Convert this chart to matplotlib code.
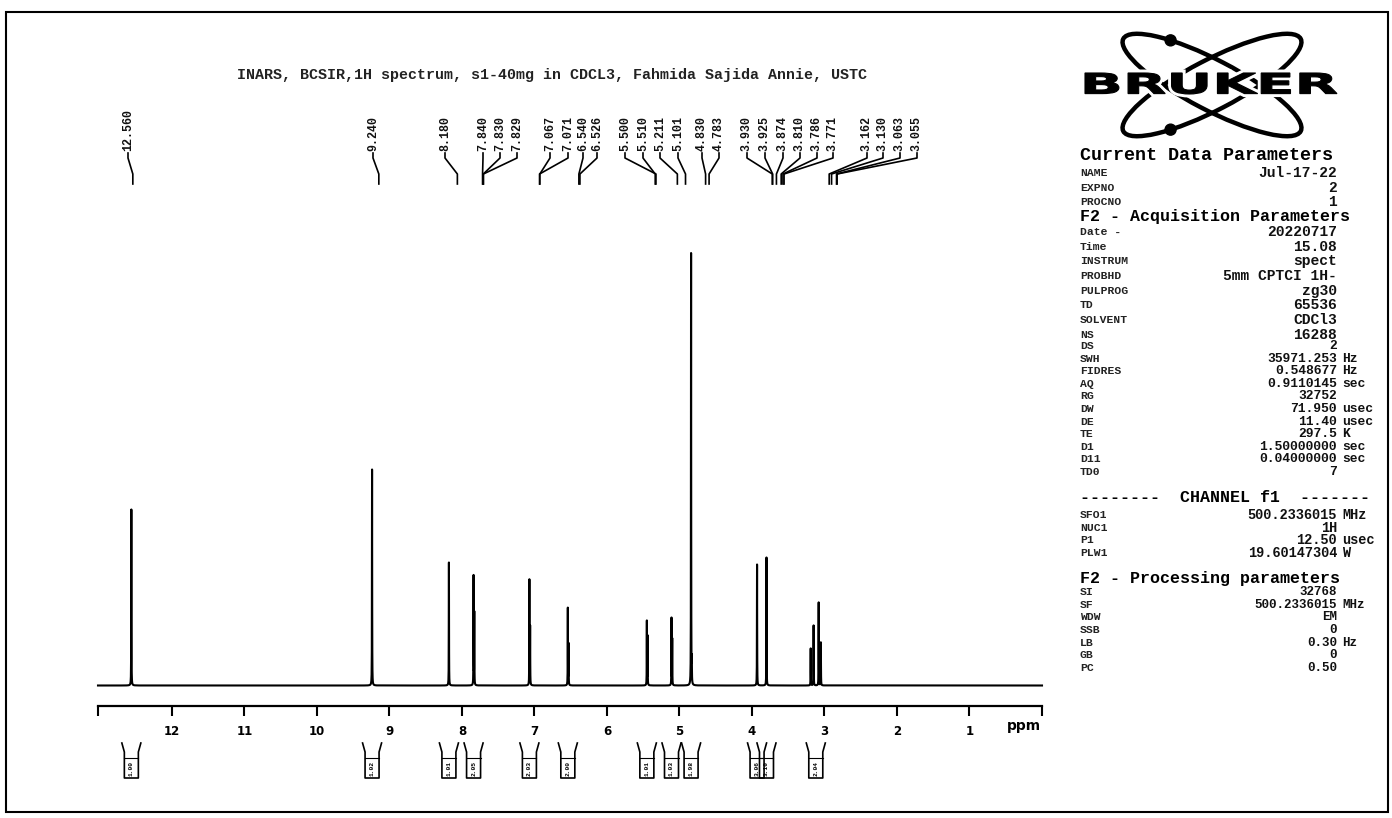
import numpy as np
import matplotlib.pyplot as plt
from matplotlib.patches import Ellipse, Rectangle, PathPatch, Circle
from matplotlib.textpath import TextPath
from matplotlib.font_manager import FontProperties
from matplotlib.transforms import Affine2D
import matplotlib.patheffects as pe

W, H = 1392, 818
MONO = ['Liberation Mono', 'DejaVu Sans Mono']

title = "INARS, BCSIR,1H spectrum, s1-40mg in CDCL3, Fahmida Sajida Annie, USTC"

# lines of the spectrum (ppm, height)
line_ppm = [12.56, 9.24, 8.18, 7.84, 7.83, 7.07, 7.06, 6.54, 6.53, 5.45, 5.44,
            5.11, 5.10, 4.84, 4.83, 3.93, 3.80, 3.19, 3.15, 3.08, 3.05]
line_height = [176, 216, 123, 109, 72, 105, 58, 77, 41, 64, 49,
               67, 46, 432, 22, 121, 128, 37, 60, 83, 43]

# peak picking labels
peak_labels = ["12.560", "9.240", "8.180", "7.840", "7.830", "7.829", "7.067", "7.071",
               "6.540", "6.526", "5.500", "5.510", "5.211", "5.101", "4.830", "4.783",
               "3.930", "3.925", "3.874", "3.810", "3.786", "3.771",
               "3.162", "3.130", "3.063", "3.055"]
# where the label text sits (layout, pixels)
label_x_px = [128, 373, 445, 483, 500, 517, 550, 568, 583, 597, 625, 643, 660, 678,
              702, 719, 747, 765, 783, 800, 817, 833, 867, 883, 900, 917]

# integrals
integral_ppm = [12.56, 9.24, 8.18, 7.84, 7.07, 6.54, 5.45, 5.11, 4.84, 3.93, 3.80, 3.12]
integral_values = ["1.00", "1.02", "1.01", "2.05", "2.03", "2.00", "1.01", "1.03",
                   "1.98", "3.06", "3.10", "2.04"]

ppm_ticks = [12, 11, 10, 9, 8, 7, 6, 5, 4, 3, 2, 1]

# parameter panel
block_current = [("NAME", "Jul-17-22", ""), ("EXPNO", "2", ""), ("PROCNO", "1", "")]
block_acq1 = [("Date -", "20220717", ""), ("Time", "15.08", ""), ("INSTRUM", "spect", ""),
              ("PROBHD", "5mm CPTCI 1H-", ""), ("PULPROG", "zg30", ""), ("TD", "65536", ""),
              ("SOLVENT", "CDCl3", ""), ("NS", "16288", "")]
block_acq2 = [("DS", "2", ""), ("SWH", "35971.253", "Hz"), ("FIDRES", "0.548677", "Hz"),
              ("AQ", "0.9110145", "sec"), ("RG", "32752", ""), ("DW", "71.950", "usec"),
              ("DE", "11.40", "usec"), ("TE", "297.5", "K"), ("D1", "1.50000000", "sec"),
              ("D11", "0.04000000", "sec"), ("TD0", "7", "")]
block_chan = [("SFO1", "500.2336015", "MHz"), ("NUC1", "1H", ""), ("P1", "12.50", "usec"),
              ("PLW1", "19.60147304", "W")]
block_proc = [("SI", "32768", ""), ("SF", "500.2336015", "MHz"), ("WDW", "EM", ""),
              ("SSB", "0", ""), ("LB", "0.30", "Hz"), ("GB", "0", ""), ("PC", "0.50", "")]

fig = plt.figure(figsize=(W / 100, H / 100), dpi=100)

# overlay in pixel units for everything around the spectrum
ov = fig.add_axes([0, 0, 1, 1])
ov.set_xlim(0, W)
ov.set_ylim(H, 0)
ov.axis('off')

# spectrum
ax = fig.add_axes([98 / W, (H - 706) / H, 944 / W, 470.5 / H])
ax.set_facecolor('none')
ppm = np.round(np.arange(0, 13.0205, 0.0005), 4)
hw = 0.0015
spec = np.zeros_like(ppm)
for p, h in zip(line_ppm, line_height):
    spec += h * hw ** 2 / ((ppm - p) ** 2 + hw ** 2)
ax.plot(ppm, spec, color='black', lw=1.5, clip_on=False)
ax.set_xlim(13.02, 0)
ax.set_ylim(-20.5, 450)
for s in ['top', 'right', 'left']:
    ax.spines[s].set_visible(False)
ax.spines['bottom'].set_linewidth(1.6)
ax.set_yticks([])
ax.set_xticks(ppm_ticks)
ax.set_xticklabels([str(t) for t in ppm_ticks], fontweight='bold', fontsize=8.5)
ax.set_xticks([13.02, 0], minor=True)
ax.tick_params(axis='x', which='both', direction='out', length=7, width=1.5, pad=7)
ov.text(1041, 726, "ppm", ha='right', va='center', fontsize=10, fontweight='bold')


def main_px(p):
    # ppm -> overlay pixel x, through the spectrum axes
    disp = ax.transData.transform((p, 0))
    return ov.transData.inverted().transform(disp)[0]


def lab_px(p):
    # the peak labels use a slightly wider scale than the spectrum
    return 98 + (13.03 - p) / (13.03 - 0.29) * 944


# title
ov.text(552, 75, title, ha='center', va='center', family=MONO, fontsize=10.8,
        fontweight='bold', color='#222')

# peak labels with connectors
for lab, lx in zip(peak_labels, label_x_px):
    px = lab_px(float(lab))
    ov.plot([lx, lx, px, px], [153, 158, 174, 184], color='black', lw=1.2,
            solid_joinstyle='round')
    ov.text(lx, 151, lab, rotation=90, ha='center', va='bottom', family=MONO,
            fontsize=8.4, fontweight='bold', color='#111')

# integral brackets
for p, v in zip(integral_ppm, integral_values):
    cx = main_px(p)
    ov.plot([cx - 9.5, cx - 7, cx - 7, cx + 7, cx + 7, cx + 9.5],
            [743, 752, 778, 778, 752, 743], color='black', lw=1.2)
    ov.plot([cx - 7, cx + 7], [758, 758], color='black', lw=0.8)
    ov.text(cx, 768, v, rotation=90, ha='center', va='center', fontsize=4.5,
            family=MONO, fontweight='bold')

# Bruker logo
lcx, lcy, la, lb, phi = 1212, 85, 100, 25, 27.5
for ang in (phi, -phi):
    ov.add_patch(Ellipse((lcx, lcy), 2 * la, 2 * lb, angle=ang, fill=False,
                         lw=3.2, ec='black', zorder=2))
for ang, t in ((phi, np.radians(-125)), (-phi, np.radians(125))):
    r = np.radians(ang)
    lx0, ly0 = la * np.cos(t), lb * np.sin(t)
    dx = lx0 * np.cos(r) - ly0 * np.sin(r)
    dy = lx0 * np.sin(r) + ly0 * np.cos(r)
    ov.add_patch(Circle((lcx + dx, lcy + dy), 5.5, color='black', zorder=3))

tp = TextPath((0, 0), "BRUKER", size=1, prop=FontProperties(family='DejaVu Sans', weight='bold'))
ext = tp.get_extents()
sx = 252 / ext.width
sy = 21 / ext.height
tr = Affine2D().translate(-ext.x0, -ext.y0).scale(sx, -sy).translate(1085, 94) + ov.transData
ov.add_patch(PathPatch(tp, transform=tr, fc='black', ec='black', lw=0.8, zorder=4,
                       path_effects=[pe.Stroke(linewidth=5, foreground='white'), pe.Normal()]))

# parameter panel
LX, VX, UX = 1080, 1337, 1342


def rows(block, y0, dy, vsize, lsize=8.2):
    for k, (name, val, unit) in enumerate(block):
        y = y0 + k * dy
        ov.text(LX, y, name, ha='left', va='center', family=MONO, fontsize=lsize,
                fontweight='bold', color='#222')
        ov.text(VX, y, val, ha='right', va='center', family=MONO, fontsize=vsize,
                fontweight='bold', color='#111')
        if unit:
            ov.text(UX, y, unit, ha='left', va='center', family=MONO, fontsize=vsize,
                    fontweight='bold', color='#111')


ov.text(LX, 156, "Current Data Parameters", ha='left', va='center', family=MONO,
        fontsize=13.2, fontweight='bold')
rows(block_current, 173, 14.6, 10.5)
ov.text(LX, 217, "F2 - Acquisition Parameters", ha='left', va='center', family=MONO,
        fontsize=12, fontweight='bold')
rows(block_acq1, 232, 14.65, 10.5)
rows(block_acq2, 346, 12.6, 9.4)
ov.text(LX, 498, "--------  CHANNEL f1  -------", ha='left', va='center', family=MONO,
        fontsize=12, fontweight='bold')
rows(block_chan, 515, 12.7, 9.8)
ov.text(LX, 578, "F2 - Processing parameters", ha='left', va='center', family=MONO,
        fontsize=12, fontweight='bold')
rows(block_proc, 592, 12.67, 9.0)

# outer frame
ov.add_patch(Rectangle((6, 12), 1382, 800, fill=False, ec='black', lw=1.5))

fig.savefig("out.png", dpi=100)
